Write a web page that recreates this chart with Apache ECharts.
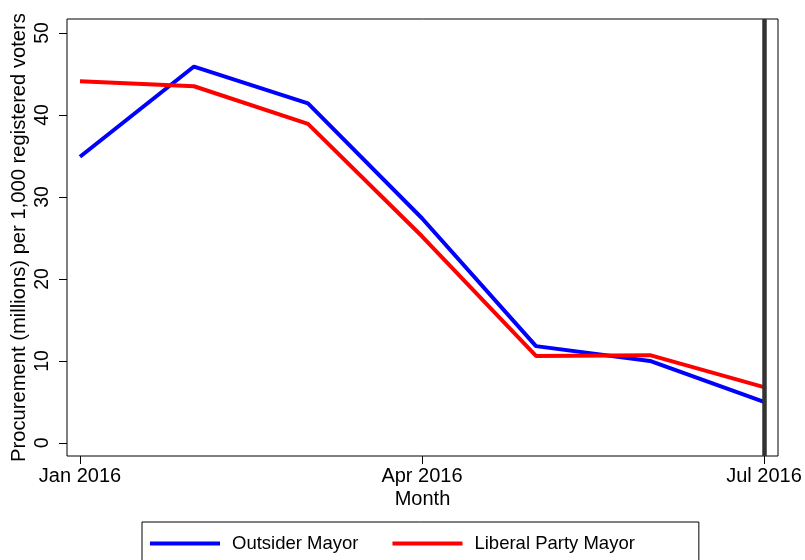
<!DOCTYPE html>
<html>
<head>
<meta charset="utf-8">
<script src="https://cdn.jsdelivr.net/npm/echarts@6/dist/echarts.min.js"></script>
<style>
  html, body { margin: 0; padding: 0; background: #fff; }
  #main { width: 805px; height: 560px; }
</style>
</head>
<body>
<div id="main"></div>
<script>
// months since Jan 2016
var months = ['Jan 2016', 'Feb 2016', 'Mar 2016', 'Apr 2016', 'May 2016', 'Jun 2016', 'Jul 2016']
var outsider = [34.9, 45.9, 41.4, 27.4, 11.8, 10.0, 5.0]
var liberal = [44.1, 43.5, 38.9, 25.2, 10.6, 10.7, 6.8]
var xTicks = [0, 3, 6]
var yTicks = [0, 10, 20, 30, 40, 50]
var cutoff = 6

function pairs (vals) {
  return vals.map(function (v, i) { return [i, v] })
}

var font = 'Liberation Sans, Arial, Helvetica, sans-serif'

var myChart = echarts.init(document.getElementById('main'))
myChart.setOption({
  animation: false,
  grid: {
    left: 67,
    right: 27,
    top: 19,
    bottom: 104,
    outerBoundsMode: 'none',
    containLabel: false,
    show: true,
    borderColor: '#000',
    borderWidth: 1
  },
  xAxis: {
    type: 'value',
    min: -0.114,
    max: 6.123,
    name: 'Month',
    nameLocation: 'middle',
    nameGap: 33,
    nameMoveOverlap: false,
    nameTextStyle: { fontFamily: font, fontSize: 20, color: '#000' },
    axisLine: { show: false, onZero: false },
    splitLine: { show: false },
    axisTick: { show: true, length: 8, lineStyle: { color: '#000' }, customValues: xTicks },
    axisLabel: {
      margin: 10,
      fontFamily: font,
      fontSize: 20,
      color: '#000',
      customValues: xTicks,
      formatter: function (v) { return months[Math.round(v)] }
    }
  },
  yAxis: {
    type: 'value',
    min: -1.6,
    max: 51.7,
    name: 'Procurement (millions) per 1,000 registered voters',
    nameLocation: 'middle',
    nameRotate: 90,
    nameGap: 38,
    nameMoveOverlap: false,
    nameTextStyle: { fontFamily: font, fontSize: 20.2, color: '#000' },
    axisLine: { show: false, onZero: false },
    splitLine: { show: false },
    axisTick: { show: true, length: 8, lineStyle: { color: '#000' }, customValues: yTicks },
    axisLabel: {
      margin: 14,
      rotate: 90,
      fontFamily: font,
      fontSize: 19.5,
      color: '#000',
      customValues: yTicks
    }
  },
  legend: {
    left: 142,
    top: 522,
    orient: 'horizontal',
    icon: 'rect',
    itemWidth: 70,
    itemHeight: 4,
    itemGap: 34,
    padding: [12, 64, 20, 8],
    borderColor: '#000',
    borderWidth: 1,
    textStyle: { fontFamily: font, fontSize: 18.5, color: '#000', padding: [0, 0, 0, 7] },
    data: ['Outsider Mayor', 'Liberal Party Mayor']
  },
  series: [
    {
      name: 'Outsider Mayor',
      type: 'line',
      showSymbol: false,
      symbol: 'none',
      data: pairs(outsider),
      lineStyle: { color: '#0000ff', width: 4 },
      itemStyle: { color: '#0000ff' },
      z: 3,
      markLine: {
        silent: true,
        symbol: 'none',
        label: { show: false },
        lineStyle: { color: '#333', width: 4.5, type: 'solid' },
        data: [{ xAxis: cutoff }]
      }
    },
    {
      name: 'Liberal Party Mayor',
      type: 'line',
      showSymbol: false,
      symbol: 'none',
      data: pairs(liberal),
      lineStyle: { color: '#ff0000', width: 4 },
      itemStyle: { color: '#ff0000' },
      z: 4
    }
  ]
})
</script>
</body>
</html>
